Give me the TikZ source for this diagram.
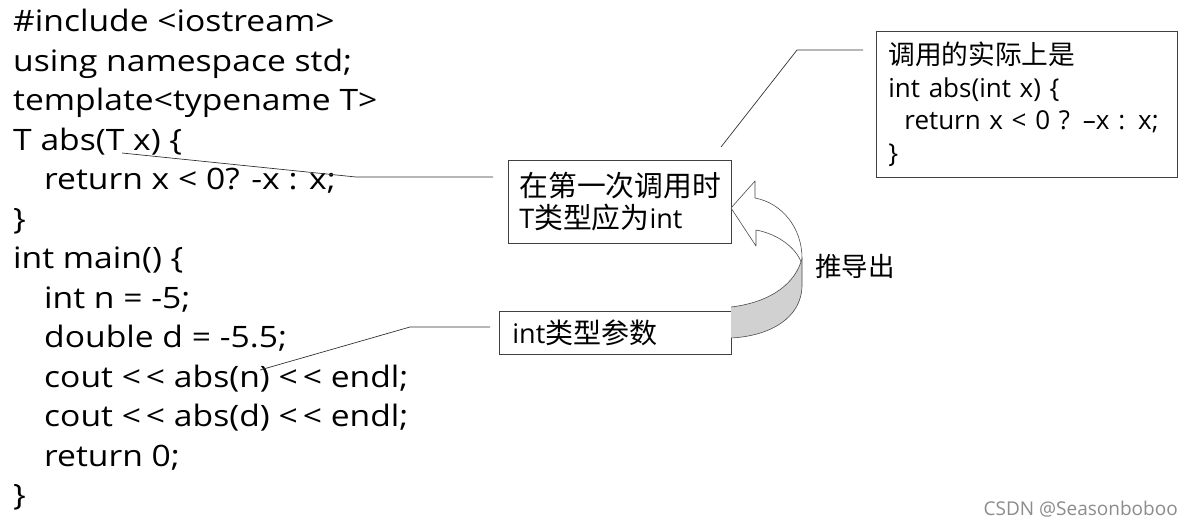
\documentclass[tikz,border=0pt]{standalone}
\usepackage{fontspec}
\setmainfont{Open Sans}
\newfontfamily\codefont[FakeStretch=1.14]{Open Sans}
\newfontfamily\cjk{Noto Sans CJK SC}
\newcommand\zhA[1]{{\cjk\fontsize{28.8}{32}\selectfont #1}}
\newcommand\zhB[1]{{\cjk\fontsize{28}{32}\selectfont #1}}
\newcommand\zhC[1]{{\cjk\fontsize{26.7}{32.5}\selectfont #1}}
\newcommand\shl{<\hspace{5pt}<}
\begin{document}
\begin{tikzpicture}[x=1pt,y=-1pt,
  code/.style={anchor=base west, inner sep=0pt, font=\codefont\fontsize{29.5}{36}\selectfont},
  box/.style={draw=black!75, line width=0.8pt, anchor=north west, align=left, inner ysep=0pt},
  callout/.style={draw=black!80, line width=0.7pt},
  arrowline/.style={draw=black!70, line width=0.6pt, line join=round}
]
\useasboundingbox (0,0) rectangle (1193,528);
\fill[white] (0,0) rectangle (1193,528);

% code lines
\node[code] (c0)  at (13,31.5)  {\#include <iostream>};
\node[code] (c1)  at (13,71)    {using namespace std;};
\node[code] (c2)  at (13,110.5) {template<typename T>};
\node[code] (c3)  at (13,150)   {T abs(T x) \{};
\node[code] (c4)  at (44,189.5) {return x < 0? -x : x;};
\node[code] (c5)  at (13,229)   {\}};
\node[code] (c6)  at (13,268.5) {int main() \{};
\node[code] (c7)  at (44,308)   {int n = -5;};
\node[code] (c8)  at (44,347.5) {double d = -5.5;};
\node[code] (c9)  at (44,387)   {cout \shl{} abs(n) \shl{} endl;};
\node[code] (c10) at (44,426.5) {cout \shl{} abs(d) \shl{} endl;};
\node[code] (c11) at (44,466)   {return 0;};
\node[code] (c12) at (13,505.5) {\}};

% boxes
\node[box, inner xsep=11pt, minimum width=223pt, minimum height=83pt, text width=201pt,
      font=\fontsize{27}{32}\selectfont] (A) at (508,160)
      {\zhA{在第一次调用时}\\T\zhA{类型应为}int};
\node[box, inner xsep=13pt, minimum width=232pt, minimum height=43pt, text width=206pt,
      font=\fontsize{27}{32}\selectfont] (B) at (499,311)
      {int\zhB{类型参数}};
\node[box, inner xsep=12pt, minimum width=301pt, minimum height=146pt, text width=277pt,
      font=\fontsize{26}{32.5}\selectfont] (C) at (876,31)
      {\zhC{调用的实际上是}\\int abs(int x) \{\\\hspace*{16pt}return x < 0 ? –x : x;\\\}};

% callout lines
\coordinate (a1) at (493,177);
\coordinate (a2) at (356,177);
\coordinate (a3) at (122,153);
\draw[callout] (a1) -- (a2) -- (a3);
\coordinate (b1) at (490,327);
\coordinate (b2) at (410,327);
\coordinate (b3) at (260,370);
\draw[callout] (b1) -- (b2) -- (b3);
\coordinate (k1) at (863,50);
\coordinate (k2) at (797,50);
\coordinate (k3) at (721,147);
\draw[callout] (k1) -- (k2) -- (k3);

% curved block arrow
\fill[black!18] (731,307) .. controls (765,303) and (792,288) .. (801,262)
   -- (802,258) -- (802,285) .. controls (802,318) and (770,336) .. (731,338) -- cycle;
\draw[arrowline] (731,307) .. controls (765,303) and (792,288) .. (801,262);
\draw[arrowline] (802,258) -- (802,285) .. controls (802,318) and (770,336) .. (731,338);
\filldraw[arrowline, fill=white] (731,208) -- (755,181) -- (755,198)
   .. controls (782,203) and (802,228) .. (802,258) -- (801,262)
   .. controls (796,248) and (778,234) .. (756,230) -- (756,246) -- cycle;

\node[anchor=west, inner sep=0pt, font=\cjk\fontsize{26.5}{30}\selectfont] (D) at (815,266) {推导出};

\node[anchor=east, inner sep=0pt, text=black!45, font=\fontsize{19}{22}\selectfont] (W) at (1178,509) {CSDN @Seasonboboo};
\end{tikzpicture}
\end{document}
